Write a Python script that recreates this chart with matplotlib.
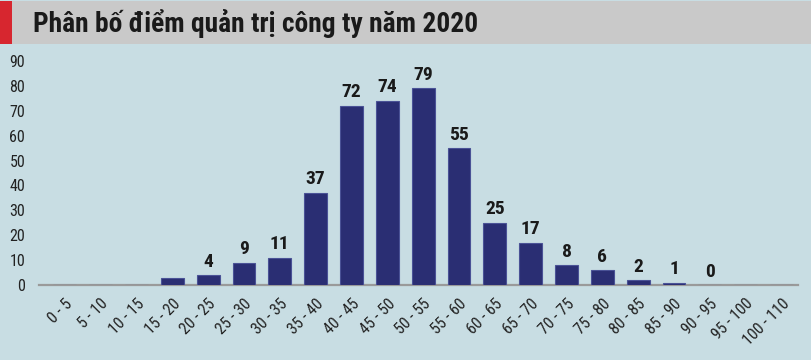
import matplotlib
matplotlib.use("Agg")
import matplotlib.pyplot as plt
from matplotlib.patches import Rectangle
from matplotlib import font_manager
from matplotlib.font_manager import FontProperties

def find_font(bold):
    prefs = ["Roboto Condensed", "Open Sans Condensed", "Liberation Sans Narrow"]
    fl = font_manager.fontManager.ttflist
    for p in prefs:
        for f in fl:
            if f.name == p and ((f.weight in (700, "bold")) == bold) and f.style == "normal":
                return FontProperties(fname=f.fname)
    for f in fl:
        if f.name == "DejaVu Sans" and f.stretch in ("condensed", 300) and \
                ((f.weight in (700, "bold")) == bold) and f.style == "normal":
            return FontProperties(fname=f.fname)
    return FontProperties(family="DejaVu Sans", weight="bold" if bold else "normal")

categories = ["0 - 5", "5 - 10", "10 - 15", "15 - 20", "20 - 25", "25 - 30", "30 - 35",
              "35 - 40", "40 - 45", "45 - 50", "50 - 55", "55 - 60", "60 - 65", "65 - 70",
              "70 - 75", "75 - 80", "80 - 85", "85 - 90", "90 - 95", "95 - 100", "100 - 110"]
values = [0, 0, 0, 3, 4, 9, 11, 37, 72, 74, 79, 55, 25, 17, 8, 6, 2, 1, 0, 0, 0]
labels = [None, None, None, None, "4", "9", "11", "37", "72", "74", "79", "55", "25",
          "17", "8", "6", "2", "1", "0", None, None]
yticks = [0, 10, 20, 30, 40, 50, 60, 70, 80, 90]
title = "Phân bố điểm quản trị công ty năm 2020"

fb = find_font(True)
fr = find_font(False)

def fp(base, size):
    p = base.copy()
    p.set_size(size)
    return p

bg = "#c8dde3"
fig = plt.figure(figsize=(8.12, 3.6), dpi=100)
fig.patch.set_facecolor(bg)

# title band
fig.patches.append(Rectangle((0, 1 - 44/360), 1, 43/360, transform=fig.transFigure,
                             facecolor="#c9c9c9", edgecolor="none", zorder=0))
fig.patches.append(Rectangle((0, 1 - 44/360), 12/812, 43/360, transform=fig.transFigure,
                             facecolor="#d7262f", edgecolor="none", zorder=1))
fig.text(33/812, 1 - 23/360, title, fontproperties=fp(fb, 19.8),
         color="#1a1a1a", va="center", ha="left")

ax = fig.add_axes([39/812, 1 - 285/360, (798 - 39)/812, (285 - 61)/360])
ax.set_facecolor(bg)
x = list(range(len(categories)))
ax.bar(x, values, width=0.64, color="#2a2e73", edgecolor="#4a5296", linewidth=0.8, zorder=3)
for xi, v, lab in zip(x, values, labels):
    if lab is not None:
        ax.text(xi, v + 1.8, lab, ha="center", va="bottom", fontproperties=fp(fb, 14),
                color="#1a1a1a", clip_on=False)

ax.set_xlim(-0.72, 20.46)
ax.set_ylim(0, 90)
ax.set_yticks(yticks)
ax.set_yticklabels([str(t) for t in yticks], fontproperties=fp(fr, 11.5), color="#222222")
ax.set_xticks(x)
ax.set_xticklabels(categories, rotation=45, ha="right", rotation_mode="anchor",
                   fontproperties=fp(fr, 11.5), color="#222222")
ax.tick_params(axis="both", length=0)
ax.tick_params(axis="y", pad=10)
ax.tick_params(axis="x", pad=8)
for s in ["top", "right", "left"]:
    ax.spines[s].set_visible(False)
ax.spines["bottom"].set_color("#9a9a9a")
ax.spines["bottom"].set_linewidth(1.6)

fig.savefig("out.png", dpi=100, facecolor=bg)
